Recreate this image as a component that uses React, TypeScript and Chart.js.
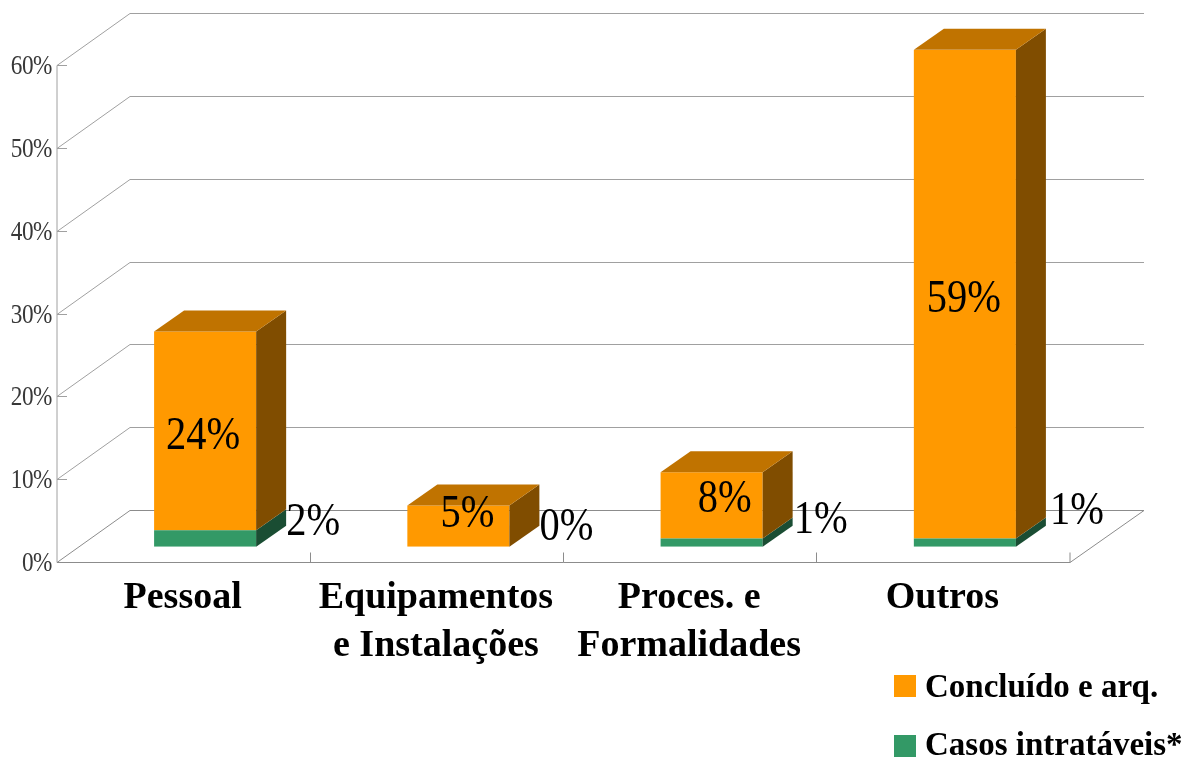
import React, { useEffect, useRef } from "react";
import { Chart, registerables } from "chart.js";

Chart.register(...registerables);

const categories = [["Pessoal"], ["Equipamentos", "e Instalações"], ["Proces. e", "Formalidades"], ["Outros"]];
const concluido = [24, 5, 8, 59];
const intrataveis = [2, 0, 1, 1];
const legendOrder = [1, 0];

const SERIF = '"Liberation Serif", "Times New Roman", serif';
const DEPTH = { x: 73, y: -52 };
const BAR_SHIFT = { x: 21.5, y: -15.7 };
const BAR_DEPTH = { x: 30, y: -21 };
const SQUEEZE = 0.86;
const GRID = "#a0a0a0";
const AXIS = "#8c8c8c";

const SHADES: Record<string, { side: string; top: string }> = {
  "#ff9900": { side: "#804d00", top: "#c07300" },
  "#339966": { side: "#1a4d33", top: "#267350" },
};

// label nudges relative to the centre of the visible front face of each segment
const orangeNudge = [[-2, 6], [9, -11], [13, -6], [-1, 5]];
const greenNudge = [[108, -16], [108, -19], [109, -22], [112, -31]];

function squeezed(ctx: CanvasRenderingContext2D, text: string, x: number, y: number, spacing: number) {
  ctx.save();
  ctx.translate(x, y);
  ctx.scale(SQUEEZE, 1);
  (ctx as any).letterSpacing = `${spacing}px`;
  ctx.fillText(text, 0, 0);
  ctx.restore();
}

function line(ctx: CanvasRenderingContext2D, pts: number[][], color: string) {
  ctx.beginPath();
  pts.forEach(([x, y], i) => (i ? ctx.lineTo(x, y) : ctx.moveTo(x, y)));
  ctx.strokeStyle = color;
  ctx.lineWidth = 1;
  ctx.stroke();
}

function face(ctx: CanvasRenderingContext2D, pts: number[][], color: string) {
  ctx.beginPath();
  pts.forEach(([x, y], i) => (i ? ctx.lineTo(x, y) : ctx.moveTo(x, y)));
  ctx.closePath();
  ctx.fillStyle = color;
  ctx.fill();
}

const threeD = {
  id: "threeD",
  beforeDatasetsDraw(chart: any) {
    const { ctx, scales, chartArea } = chart;
    const { left, right, bottom } = chartArea;
    const y = scales.y;
    const x = scales.x;
    const yTop = y.getPixelForValue(y.max);

    y.ticks.forEach((t: any) => {
      const py = Math.floor(y.getPixelForValue(t.value)) + 0.5;
      line(ctx, [[left, py], [left + DEPTH.x, py + DEPTH.y], [right + DEPTH.x + 1, py + DEPTH.y]], t.value === 0 ? AXIS : GRID);
      line(ctx, [[left, py], [left + 10, py]], GRID);
      ctx.font = `27px ${SERIF}`;
      ctx.fillStyle = "#383838";
      ctx.textAlign = "right";
      ctx.textBaseline = "middle";
      squeezed(ctx, `${t.value}%`, left - 5, py + 1, -0.5);
    });
    const b = Math.floor(bottom) + 0.5;
    line(ctx, [[left, Math.floor(yTop) + 0.5], [left, b]], GRID);
    line(ctx, [[left, b], [right, b], [right + DEPTH.x + 1, b + DEPTH.y]], AXIS);
    categories.forEach((_, i) => {
      if (i === 0) return;
      const px = Math.floor(x.getPixelForValue(i - 0.5)) + 0.5;
      line(ctx, [[px, b], [px, b - 10]], AXIS);
    });
    line(ctx, [[right, b], [right, b - 10]], AXIS);

    ctx.save();
    ctx.translate(BAR_SHIFT.x, BAR_SHIFT.y);
  },
  afterDatasetsDraw(chart: any) {
    const { ctx } = chart;
    ctx.restore();
    const metas = chart.getSortedVisibleDatasetMetas();
    const lastIndex = metas.length - 1;
    // side faces on every segment, the top face only on the uppermost one
    metas.forEach((meta: any, m: number) => {
      const color = String(chart.data.datasets[meta.index].backgroundColor);
      const shade = SHADES[color];
      meta.data.forEach((bar: any) => {
        const p = bar.getProps(["x", "y", "base", "width"]);
        if (Math.abs(p.base - p.y) < 0.01) return;
        const r = p.x + p.width / 2 + BAR_SHIFT.x;
        const l = p.x - p.width / 2 + BAR_SHIFT.x;
        const t = p.y + BAR_SHIFT.y;
        const bt = p.base + BAR_SHIFT.y;
        face(ctx, [[r, t], [r + BAR_DEPTH.x, t + BAR_DEPTH.y], [r + BAR_DEPTH.x, bt + BAR_DEPTH.y], [r, bt]], shade.side);
        if (m === lastIndex) {
          face(ctx, [[l, t], [l + BAR_DEPTH.x, t + BAR_DEPTH.y], [r + BAR_DEPTH.x, t + BAR_DEPTH.y], [r, t]], shade.top);
        }
      });
    });
    // value labels
    ctx.font = `47px ${SERIF}`;
    ctx.fillStyle = "#000000";
    ctx.textAlign = "center";
    ctx.textBaseline = "middle";
    metas.forEach((meta: any) => {
      const ds = chart.data.datasets[meta.index];
      const nudge = meta.index === 0 ? greenNudge : orangeNudge;
      meta.data.forEach((bar: any, i: number) => {
        const p = bar.getProps(["x", "y", "base"]);
        squeezed(
          ctx,
          `${ds.data[i]}%`,
          p.x + BAR_SHIFT.x + nudge[i][0],
          (p.y + p.base) / 2 + BAR_SHIFT.y + nudge[i][1],
          0,
        );
      });
    });
    // legend
    ctx.textAlign = "left";
    ctx.textBaseline = "alphabetic";
    ctx.font = `bold 33px ${SERIF}`;
    legendOrder.forEach((idx, row) => {
      const ds = chart.data.datasets[idx];
      const top = 675 + row * 60;
      ctx.fillStyle = ds.backgroundColor;
      ctx.fillRect(894, top, 22, 22);
      ctx.fillStyle = "#000000";
      ctx.fillText(ds.label, 925, top + 22 + (row ? -2 : 0));
    });
  },
};

export default function App() {
  const ref = useRef<HTMLCanvasElement>(null);
  useEffect(() => {
    document.documentElement.style.overflow = "hidden";
    document.body.style.margin = "0";
    document.body.style.background = "#ffffff";
    const chart = new Chart(ref.current!, {
      type: "bar",
      data: {
        labels: categories as any,
        datasets: [
          { label: "Casos intratáveis*", data: intrataveis, backgroundColor: "#339966", borderWidth: 0 },
          { label: "Concluído e arq.", data: concluido, backgroundColor: "#ff9900", borderWidth: 0 },
        ],
      },
      options: {
        responsive: false,
        animation: false,
        layout: { padding: { left: 57, right: 116, top: 65.5, bottom: 0 } },
        datasets: { bar: { barPercentage: 1, categoryPercentage: 0.403 } },
        plugins: { legend: { display: false }, tooltip: { enabled: false } },
        scales: {
          x: {
            stacked: true,
            afterFit(scale: any) {
              scale.height = 195.5;
            },
            grid: { display: false, drawTicks: false },
            border: { display: false },
            ticks: {
              color: "#000000",
              padding: 12,
              maxRotation: 0,
              autoSkip: false,
              labelOffset: -1,
              font: { family: SERIF, size: 38, weight: "bold", lineHeight: 1.26 },
            },
          },
          y: {
            stacked: true,
            min: 0,
            max: 60,
            afterFit(scale: any) {
              scale.width = 0;
            },
            grid: { display: false },
            border: { display: false },
            ticks: { display: false, stepSize: 10 },
          },
        },
      },
      plugins: [threeD],
    } as any);
    return () => chart.destroy();
  }, []);
  return <canvas ref={ref} width={1186} height={758} style={{ display: "block" }} />;
}
